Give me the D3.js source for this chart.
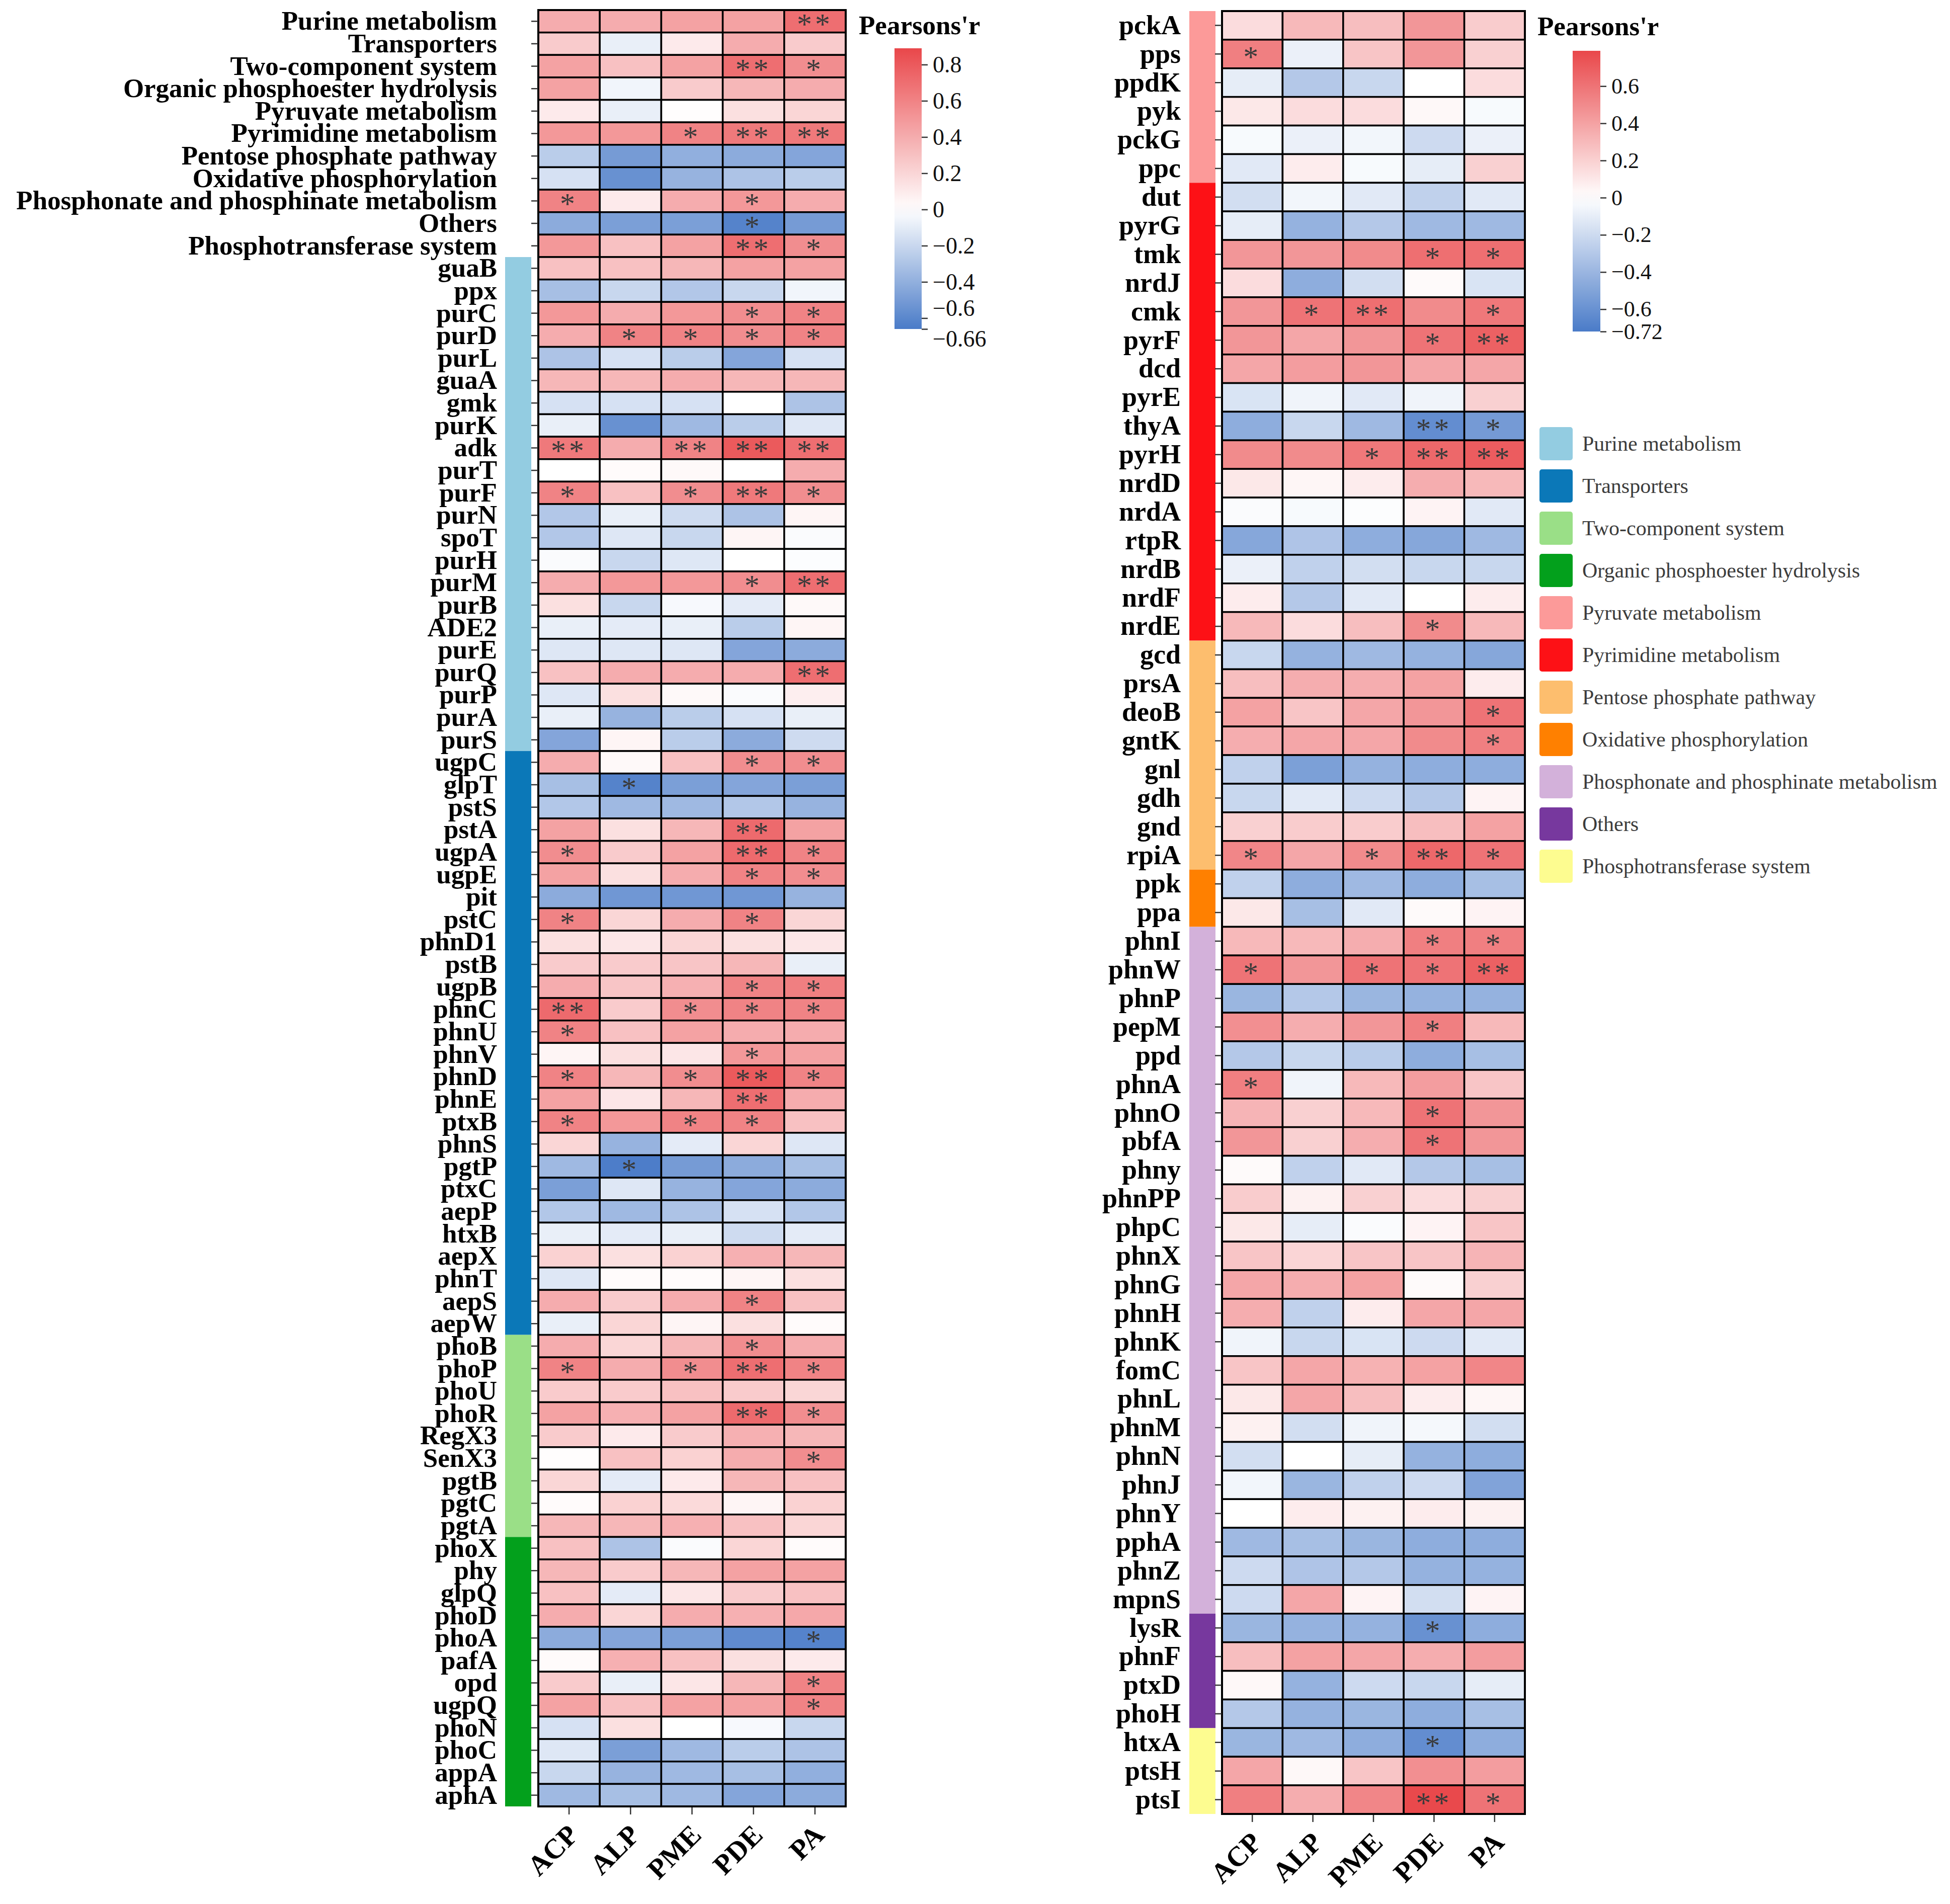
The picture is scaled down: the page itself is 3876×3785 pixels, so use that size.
<!DOCTYPE html>
<html>
<head>
<meta charset="utf-8">
<script src="https://cdn.jsdelivr.net/npm/d3@7"></script>
<style>
  body { margin: 0; background: #fff; }
  .chart text { font-family: "Liberation Serif", "Times New Roman", serif; }
</style>
</head>
<body>
<div class="chart"></div>
<script>
var svgWidth = 3876;
var svgHeight = 3785;

// columns (enzyme activities)
var columns = ["ACP", "ALP", "PME", "PDE", "PA"];

// left panel
var leftRows = ["Purine metabolism", "Transporters", "Two-component system", "Organic phosphoester hydrolysis",
  "Pyruvate metabolism", "Pyrimidine metabolism", "Pentose phosphate pathway", "Oxidative phosphorylation",
  "Phosphonate and phosphinate metabolism", "Others", "Phosphotransferase system",
  "guaB", "ppx", "purC", "purD", "purL", "guaA", "gmk", "purK", "adk", "purT", "purF", "purN", "spoT", "purH",
  "purM", "purB", "ADE2", "purE", "purQ", "purP", "purA", "purS",
  "ugpC", "glpT", "pstS", "pstA", "ugpA", "ugpE", "pit", "pstC", "phnD1", "pstB", "ugpB", "phnC", "phnU", "phnV",
  "phnD", "phnE", "ptxB", "phnS", "pgtP", "ptxC", "aepP", "htxB", "aepX", "phnT", "aepS", "aepW",
  "phoB", "phoP", "phoU", "phoR", "RegX3", "SenX3", "pgtB", "pgtC", "pgtA",
  "phoX", "phy", "glpQ", "phoD", "phoA", "pafA", "opd", "ugpQ", "phoN", "phoC", "appA", "aphA"];

var leftValues = [
  [0.4, 0.4, 0.45, 0.45, 0.7], [0.25, -0.08, 0.1, 0.4, 0.25], [0.45, 0.3, 0.45, 0.7, 0.55],
  [0.45, -0.05, 0.25, 0.35, 0.4], [0.1, -0.08, 0.01, 0.15, 0.2], [0.5, 0.5, 0.6, 0.65, 0.65],
  [-0.25, -0.5, -0.4, -0.42, -0.45], [-0.15, -0.55, -0.38, -0.3, -0.25], [0.6, 0.1, 0.4, 0.5, 0.4],
  [-0.42, -0.48, -0.48, -0.62, -0.5], [0.5, 0.3, 0.45, 0.7, 0.55],
  [0.3, 0.3, 0.35, 0.45, 0.45], [-0.32, -0.2, -0.28, -0.2, -0.05], [0.5, 0.4, 0.5, 0.55, 0.6],
  [0.4, 0.6, 0.6, 0.55, 0.6], [-0.3, -0.15, -0.25, -0.45, -0.15], [0.35, 0.35, 0.4, 0.35, 0.35],
  [-0.15, -0.15, -0.15, 0.0, -0.3], [-0.08, -0.55, -0.35, -0.25, -0.12], [0.65, 0.4, 0.6, 0.8, 0.7],
  [0.0, 0.02, 0.03, 0.0, 0.4], [0.6, 0.3, 0.55, 0.65, 0.55], [-0.28, -0.08, -0.18, -0.3, 0.05],
  [-0.28, -0.12, -0.2, 0.05, -0.02], [-0.02, -0.2, -0.12, 0.0, -0.01], [0.4, 0.5, 0.5, 0.55, 0.7],
  [0.15, -0.2, -0.03, -0.1, 0.03], [-0.08, -0.1, -0.08, -0.25, 0.05], [-0.12, -0.12, -0.12, -0.45, -0.42],
  [0.3, 0.4, 0.4, 0.4, 0.7], [-0.12, 0.15, 0.03, -0.02, 0.08], [-0.08, -0.38, -0.25, -0.15, -0.08],
  [-0.45, 0.05, -0.25, -0.42, -0.18],
  [0.4, 0.03, 0.3, 0.55, 0.55], [-0.32, -0.62, -0.48, -0.45, -0.48], [-0.28, -0.35, -0.35, -0.28, -0.38],
  [0.45, 0.15, 0.35, 0.72, 0.45], [0.55, 0.25, 0.45, 0.72, 0.6], [0.45, 0.15, 0.4, 0.6, 0.55],
  [-0.42, -0.52, -0.52, -0.52, -0.38], [0.6, 0.2, 0.4, 0.6, 0.2], [0.15, 0.12, 0.2, 0.15, 0.12],
  [0.25, 0.25, 0.28, 0.35, -0.08], [0.4, 0.28, 0.38, 0.6, 0.62], [0.72, 0.25, 0.55, 0.6, 0.6],
  [0.6, 0.3, 0.45, 0.4, 0.4], [0.05, 0.15, 0.12, 0.5, 0.45], [0.6, 0.35, 0.55, 0.8, 0.6],
  [0.45, 0.12, 0.35, 0.7, 0.4], [0.6, 0.5, 0.6, 0.6, 0.3], [0.2, -0.38, -0.1, 0.2, -0.12],
  [-0.35, -0.65, -0.5, -0.42, -0.32], [-0.48, -0.12, -0.38, -0.45, -0.42], [-0.28, -0.35, -0.3, -0.15, -0.28],
  [-0.08, -0.1, -0.08, -0.18, -0.1], [0.22, 0.15, 0.22, 0.38, 0.35], [-0.12, 0.02, 0.02, 0.05, 0.15],
  [0.4, 0.25, 0.4, 0.6, 0.3], [-0.08, 0.2, 0.05, 0.15, 0.02],
  [0.4, 0.2, 0.35, 0.55, 0.4], [0.6, 0.4, 0.55, 0.7, 0.6], [0.25, 0.25, 0.3, 0.25, 0.2],
  [0.45, 0.38, 0.45, 0.72, 0.55], [0.25, 0.1, 0.25, 0.38, 0.35], [0.01, 0.3, 0.22, 0.4, 0.55],
  [0.2, -0.1, 0.1, 0.35, 0.3], [0.02, 0.22, 0.18, 0.05, 0.22], [0.35, 0.35, 0.38, 0.3, 0.2],
  [0.3, -0.3, -0.02, 0.2, 0.02], [0.35, 0.25, 0.35, 0.45, 0.45], [0.3, -0.1, 0.12, 0.25, 0.3],
  [0.4, 0.2, 0.4, 0.38, 0.42], [-0.42, -0.45, -0.48, -0.58, -0.62], [0.02, 0.38, 0.3, 0.15, 0.1],
  [0.25, -0.08, 0.12, 0.35, 0.6], [0.45, 0.3, 0.45, 0.45, 0.6], [-0.15, 0.15, 0.0, -0.03, -0.2],
  [-0.12, -0.48, -0.35, -0.25, -0.3], [-0.2, -0.38, -0.35, -0.32, -0.4], [-0.35, -0.32, -0.35, -0.45, -0.42]
];

// number of asterisks per cell
var leftStars = [
  [0,0,0,0,2], [0,0,0,0,0], [0,0,0,2,1], [0,0,0,0,0], [0,0,0,0,0], [0,0,1,2,2],
  [0,0,0,0,0], [0,0,0,0,0], [1,0,0,1,0], [0,0,0,1,0], [0,0,0,2,1],
  [0,0,0,0,0], [0,0,0,0,0], [0,0,0,1,1], [0,1,1,1,1], [0,0,0,0,0], [0,0,0,0,0],
  [0,0,0,0,0], [0,0,0,0,0], [2,0,2,2,2], [0,0,0,0,0], [1,0,1,2,1], [0,0,0,0,0],
  [0,0,0,0,0], [0,0,0,0,0], [0,0,0,1,2], [0,0,0,0,0], [0,0,0,0,0], [0,0,0,0,0],
  [0,0,0,0,2], [0,0,0,0,0], [0,0,0,0,0], [0,0,0,0,0],
  [0,0,0,1,1], [0,1,0,0,0], [0,0,0,0,0], [0,0,0,2,0], [1,0,0,2,1], [0,0,0,1,1],
  [0,0,0,0,0], [1,0,0,1,0], [0,0,0,0,0], [0,0,0,0,0], [0,0,0,1,1], [2,0,1,1,1],
  [1,0,0,0,0], [0,0,0,1,0], [1,0,1,2,1], [0,0,0,2,0], [1,0,1,1,0], [0,0,0,0,0],
  [0,1,0,0,0], [0,0,0,0,0], [0,0,0,0,0], [0,0,0,0,0], [0,0,0,0,0], [0,0,0,0,0],
  [0,0,0,1,0], [0,0,0,0,0],
  [0,0,0,1,0], [1,0,1,2,1], [0,0,0,0,0], [0,0,0,2,1], [0,0,0,0,0], [0,0,0,0,1],
  [0,0,0,0,0], [0,0,0,0,0], [0,0,0,0,0],
  [0,0,0,0,0], [0,0,0,0,0], [0,0,0,0,0], [0,0,0,0,0], [0,0,0,0,1], [0,0,0,0,0],
  [0,0,0,0,1], [0,0,0,0,1], [0,0,0,0,0], [0,0,0,0,0], [0,0,0,0,0], [0,0,0,0,0]
];

var leftGroupNames = [null, "Purine metabolism", "Transporters", "Two-component system", "Organic phosphoester hydrolysis"];
var leftGroupSizes = [11, 22, 26, 9, 12];
var leftColorTicks = [-0.66, -0.6, -0.4, -0.2, 0, 0.2, 0.4, 0.6, 0.8];
var leftRange = [-0.66, 0.89];

// right panel
var rightRows = ["pckA", "pps", "ppdK", "pyk", "pckG", "ppc",
  "dut", "pyrG", "tmk", "nrdJ", "cmk", "pyrF", "dcd", "pyrE", "thyA", "pyrH", "nrdD", "nrdA", "rtpR", "nrdB", "nrdF", "nrdE",
  "gcd", "prsA", "deoB", "gntK", "gnl", "gdh", "gnd", "rpiA",
  "ppk", "ppa",
  "phnI", "phnW", "phnP", "pepM", "ppd", "phnA", "phnO", "pbfA", "phny", "phnPP", "phpC", "phnX", "phnG", "phnH",
  "phnK", "fomC", "phnL", "phnM", "phnN", "phnJ", "phnY", "pphA", "phnZ", "mpnS",
  "lysR", "phnF", "ptxD", "phoH",
  "htxA", "ptsH", "ptsI"];

var rightValues = [
  [0.15, 0.3, 0.28, 0.45, 0.22], [0.55, -0.08, 0.25, 0.45, 0.2], [-0.1, -0.3, -0.22, 0.0, 0.15],
  [0.1, 0.15, 0.15, 0.03, -0.03], [-0.03, -0.08, -0.05, -0.2, -0.08], [-0.12, 0.08, -0.03, -0.1, 0.2],
  [-0.18, -0.05, -0.12, -0.25, -0.12], [-0.1, -0.42, -0.3, -0.38, -0.38], [0.45, 0.45, 0.5, 0.62, 0.62],
  [0.15, -0.45, -0.18, 0.02, -0.15], [0.45, 0.6, 0.62, 0.5, 0.58], [0.45, 0.38, 0.45, 0.6, 0.68],
  [0.38, 0.42, 0.45, 0.38, 0.38], [-0.15, -0.06, -0.12, -0.06, 0.2], [-0.45, -0.22, -0.38, -0.62, -0.55],
  [0.5, 0.5, 0.58, 0.65, 0.7], [0.1, 0.04, 0.08, 0.35, 0.3], [-0.02, -0.03, -0.01, 0.05, -0.12],
  [-0.48, -0.32, -0.45, -0.48, -0.38], [-0.08, -0.25, -0.18, -0.22, -0.22], [0.08, -0.3, -0.12, 0.0, 0.08],
  [0.3, 0.15, 0.28, 0.5, 0.3],
  [-0.22, -0.42, -0.38, -0.42, -0.48], [0.28, 0.35, 0.35, 0.4, 0.08], [0.4, 0.25, 0.38, 0.45, 0.6],
  [0.35, 0.38, 0.38, 0.5, 0.55], [-0.25, -0.52, -0.42, -0.45, -0.45], [-0.22, -0.12, -0.2, -0.3, 0.05],
  [0.2, 0.22, 0.22, 0.28, 0.4], [0.52, 0.38, 0.5, 0.65, 0.6],
  [-0.25, -0.45, -0.38, -0.45, -0.35], [0.1, -0.35, -0.12, 0.02, 0.05],
  [0.3, 0.3, 0.35, 0.55, 0.55], [0.6, 0.45, 0.6, 0.6, 0.68], [-0.4, -0.3, -0.4, -0.42, -0.42],
  [0.48, 0.35, 0.45, 0.55, 0.3], [-0.3, -0.22, -0.28, -0.45, -0.35], [0.55, -0.06, 0.3, 0.42, 0.25],
  [0.32, 0.2, 0.3, 0.6, 0.45], [0.45, 0.2, 0.35, 0.6, 0.45], [0.02, -0.25, -0.12, -0.3, -0.35],
  [0.22, 0.06, 0.2, 0.15, 0.2], [0.1, -0.1, -0.02, 0.05, 0.25], [0.25, 0.18, 0.25, 0.25, 0.32],
  [0.38, 0.35, 0.4, 0.02, 0.2], [0.35, -0.25, 0.08, 0.38, 0.38], [-0.06, -0.22, -0.15, -0.2, -0.12],
  [0.25, 0.38, 0.33, 0.4, 0.52], [0.1, 0.38, 0.28, 0.08, 0.04], [0.06, -0.18, -0.06, -0.04, -0.18],
  [-0.18, 0.0, -0.1, -0.42, -0.45], [-0.05, -0.4, -0.25, -0.2, -0.5], [0.0, 0.08, 0.06, 0.08, 0.06],
  [-0.38, -0.35, -0.4, -0.45, -0.45], [-0.2, -0.32, -0.3, -0.42, -0.42], [-0.2, 0.38, 0.05, -0.18, 0.05],
  [-0.4, -0.42, -0.42, -0.6, -0.45], [0.28, 0.4, 0.38, 0.35, 0.42], [0.03, -0.42, -0.2, -0.22, -0.1],
  [-0.3, -0.42, -0.4, -0.45, -0.35],
  [-0.4, -0.38, -0.45, -0.62, -0.45], [0.38, 0.03, 0.25, 0.48, 0.42], [0.55, 0.35, 0.52, 0.78, 0.6]
];

var rightStars = [
  [0,0,0,0,0], [1,0,0,0,0], [0,0,0,0,0], [0,0,0,0,0], [0,0,0,0,0], [0,0,0,0,0],
  [0,0,0,0,0], [0,0,0,0,0], [0,0,0,1,1], [0,0,0,0,0], [0,1,2,0,1], [0,0,0,1,2],
  [0,0,0,0,0], [0,0,0,0,0], [0,0,0,2,1], [0,0,1,2,2], [0,0,0,0,0], [0,0,0,0,0],
  [0,0,0,0,0], [0,0,0,0,0], [0,0,0,0,0], [0,0,0,1,0],
  [0,0,0,0,0], [0,0,0,0,0], [0,0,0,0,1], [0,0,0,0,1], [0,0,0,0,0], [0,0,0,0,0],
  [0,0,0,0,0], [1,0,1,2,1],
  [0,0,0,0,0], [0,0,0,0,0],
  [0,0,0,1,1], [1,0,1,1,2], [0,0,0,0,0], [0,0,0,1,0], [0,0,0,0,0], [1,0,0,0,0],
  [0,0,0,1,0], [0,0,0,1,0], [0,0,0,0,0], [0,0,0,0,0], [0,0,0,0,0], [0,0,0,0,0],
  [0,0,0,0,0], [0,0,0,0,0], [0,0,0,0,0], [0,0,0,0,0], [0,0,0,0,0], [0,0,0,0,0],
  [0,0,0,0,0], [0,0,0,0,0], [0,0,0,0,0], [0,0,0,0,0], [0,0,0,0,0], [0,0,0,0,0],
  [0,0,0,1,0], [0,0,0,0,0], [0,0,0,0,0], [0,0,0,0,0],
  [0,0,0,1,0], [0,0,0,0,0], [0,0,0,2,1]
];

var rightGroupNames = ["Pyruvate metabolism", "Pyrimidine metabolism", "Pentose phosphate pathway",
  "Oxidative phosphorylation", "Phosphonate and phosphinate metabolism", "Others", "Phosphotransferase system"];
var rightGroupSizes = [6, 16, 8, 2, 24, 4, 3];
var rightColorTicks = [-0.72, -0.6, -0.4, -0.2, 0, 0.2, 0.4, 0.6];
var rightRange = [-0.72, 0.79];

// legend categories and colours
var legendNames = ["Purine metabolism", "Transporters", "Two-component system", "Organic phosphoester hydrolysis",
  "Pyruvate metabolism", "Pyrimidine metabolism", "Pentose phosphate pathway", "Oxidative phosphorylation",
  "Phosphonate and phosphinate metabolism", "Others", "Phosphotransferase system"];
var legendColors = ["#93cce1", "#0b78b8", "#9adf87", "#03a01c", "#fc9a99", "#fd1116",
  "#fdbe6e", "#ff8000", "#d3b1da", "#77389e", "#fdfc90"];

var groupColor = d3.scaleOrdinal().domain(legendNames).range(legendColors);

var svg = d3.select(".chart")
  .append("svg")
  .attr("width", svgWidth)
  .attr("height", svgHeight);

var defs = svg.append("defs");

function makeColor(range) {
  return d3.scaleLinear()
    .domain([range[0], 0, range[1]])
    .range(["#4a7bc8", "#ffffff", "#e9474a"]);
}

// one heatmap panel with its group bar and axes
function drawPanel(rows, values, stars, groupNames, groupSizes, box, color) {
  var x = d3.scaleBand().domain(columns).range([box.left, box.left + box.width]);
  var y = d3.scaleBand().domain(rows).range([box.top, box.top + box.height]);

  var cells = [];
  rows.forEach(function(r, i) {
    columns.forEach(function(c, j) {
      cells.push({ row: r, col: c, v: values[i][j], s: stars[i][j] });
    });
  });

  var g = svg.append("g");

  g.selectAll("rect.cell")
    .data(cells)
    .enter()
    .append("rect")
    .attr("class", "cell")
    .attr("x", d => x(d.col))
    .attr("y", d => y(d.row))
    .attr("width", x.bandwidth())
    .attr("height", y.bandwidth())
    .attr("fill", d => color(d.v))
    .attr("stroke", "#000")
    .attr("stroke-width", 3.5);

  g.append("rect")
    .attr("x", box.left)
    .attr("y", box.top)
    .attr("width", box.width)
    .attr("height", box.height)
    .attr("fill", "none")
    .attr("stroke", "#000")
    .attr("stroke-width", 4);

  g.selectAll("text.star")
    .data(cells.filter(d => d.s > 0))
    .enter()
    .append("text")
    .attr("class", "star")
    .attr("x", d => x(d.col) + x.bandwidth() / 2)
    .attr("y", d => y(d.row) + y.bandwidth() / 2 + 26)
    .attr("text-anchor", "middle")
    .attr("font-size", 60)
    .attr("fill", "#3a3a3a")
    .attr("letter-spacing", 6)
    .text(d => d.s === 2 ? "**" : "*");

  // coloured group bar
  var start = 0;
  groupNames.forEach(function(name, k) {
    var first = rows[start];
    var last = rows[start + groupSizes[k] - 1];
    if (name) {
      g.append("rect")
        .attr("x", box.barX)
        .attr("y", y(first))
        .attr("width", box.barW)
        .attr("height", y(last) + y.bandwidth() - y(first))
        .attr("fill", groupColor(name));
    }
    start += groupSizes[k];
  });

  var leftAxis = d3.axisLeft(y).tickSize(13).tickPadding(68);
  var yAxis = g.append("g")
    .attr("transform", `translate(${box.left - 1}, 0)`)
    .call(leftAxis);
  yAxis.select(".domain").remove();
  yAxis.selectAll("line").attr("stroke", "#333").attr("stroke-width", 2.5);
  yAxis.selectAll("text")
    .attr("font-size", box.labelSize)
    .attr("font-weight", "bold")
    .attr("fill", "#000");

  var bottomAxis = d3.axisBottom(x).tickSize(14);
  var xAxis = g.append("g")
    .attr("transform", `translate(0, ${box.top + box.height + 2})`)
    .call(bottomAxis);
  xAxis.select(".domain").remove();
  xAxis.selectAll("line").attr("stroke", "#333").attr("stroke-width", 2.5);
  xAxis.selectAll("text")
    .attr("y", 0)
    .attr("dy", "0.7em")
    .attr("text-anchor", "end")
    .attr("transform", "translate(-6, 30) rotate(-45)")
    .attr("font-size", 56)
    .attr("font-weight", "bold")
    .attr("fill", "#000");
}

// gradient colour bar with its axis
function drawColorBar(id, range, ticks, color, box) {
  var grad = defs.append("linearGradient")
    .attr("id", id)
    .attr("x1", "0").attr("y1", "1")
    .attr("x2", "0").attr("y2", "0");
  d3.range(0, 1.0001, 0.05).forEach(function(t) {
    grad.append("stop")
      .attr("offset", t)
      .attr("stop-color", color(range[0] + t * (range[1] - range[0])));
  });

  svg.append("text")
    .attr("x", box.titleX)
    .attr("y", box.titleY)
    .attr("font-size", 53)
    .attr("font-weight", "bold")
    .attr("fill", "#000")
    .text("Pearsons'r");

  svg.append("rect")
    .attr("x", box.x)
    .attr("y", box.top)
    .attr("width", box.w)
    .attr("height", box.bottom - box.top)
    .attr("fill", `url(#${id})`);

  var scale = d3.scaleLinear().domain(range).range([box.bottom, box.top]);
  var axis = d3.axisRight(scale)
    .tickValues(ticks)
    .tickSize(12)
    .tickPadding(10)
    .tickFormat(d3.format(""));
  var a = svg.append("g")
    .attr("transform", `translate(${box.x + box.w}, 0)`)
    .call(axis);
  a.select(".domain").remove();
  a.selectAll("line").attr("stroke", "#333").attr("stroke-width", 2.5);
  a.selectAll("text")
    .attr("font-size", box.tickSize)
    .attr("fill", "#111");

  // push the two lowest labels apart when they sit close together
  if (ticks[1] - ticks[0] < 0.1) {
    a.selectAll(".tick text")
      .attr("dy", (d, i) => i === 0 ? "0.75em" : (i === 1 ? "-0.1em" : "0.32em"));
  }
}

var leftColor = makeColor(leftRange);
var rightColor = makeColor(rightRange);

drawPanel(leftRows, leftValues, leftStars, leftGroupNames, leftGroupSizes,
  { left: 1070, top: 20, width: 611, height: 3571, barX: 1004, barW: 52, labelSize: 53 }, leftColor);

drawPanel(rightRows, rightValues, rightStars, rightGroupNames, rightGroupSizes,
  { left: 2429, top: 22, width: 602, height: 3584, barX: 2364, barW: 52, labelSize: 54 }, rightColor);

drawColorBar("gradLeft", leftRange, leftColorTicks, leftColor,
  { titleX: 1707, titleY: 68, x: 1778, w: 54, top: 96, bottom: 654, tickSize: 46 });

drawColorBar("gradRight", rightRange, rightColorTicks, rightColor,
  { titleX: 3056, titleY: 70, x: 3126, w: 55, top: 101, bottom: 659, tickSize: 44 });

// category legend
var legend = svg.append("g")
  .attr("transform", "translate(3060, 849)");

var items = legend.selectAll("g")
  .data(legendNames)
  .enter()
  .append("g")
  .attr("transform", (d, i) => `translate(0, ${i * 84})`);

items.append("rect")
  .attr("width", 66)
  .attr("height", 66)
  .attr("rx", 5)
  .attr("fill", d => groupColor(d));

items.append("text")
  .attr("x", 85)
  .attr("y", 47)
  .attr("font-size", 42)
  .attr("fill", "#3c3c3c")
  .text(d => d);
</script>
</body>
</html>
